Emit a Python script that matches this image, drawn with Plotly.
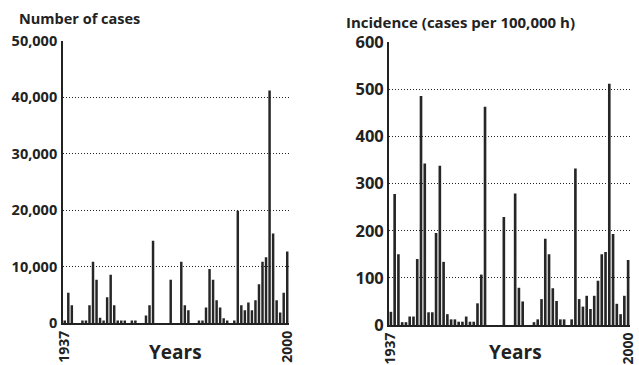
import plotly.graph_objects as go

years = list(range(1937, 2001))

cases = [500, 5400, 3200, 0, 0, 500, 500, 3200, 10900, 7700,
         1000, 500, 4600, 8600, 3200, 500, 500, 500, 0, 500,
         500, 0, 0, 1400, 3200, 14600, 0, 0, 0, 0,
         7700, 0, 0, 10900, 3200, 2300, 0, 0, 500, 500,
         2800, 9600, 7700, 4100, 2800, 900, 500, 0, 500, 19900,
         3200, 2300, 3700, 2300, 4100, 6900, 10900, 11700, 41200, 15900,
         4100, 1900, 5400, 12700]

incidence = [28, 278, 150, 6, 6, 18, 18, 140, 486, 343,
             27, 27, 195, 338, 134, 23, 12, 12, 7, 7,
             18, 7, 7, 46, 107, 463, 0, 0, 0, 0,
             229, 0, 0, 279, 79, 50, 0, 0, 6, 12,
             55, 183, 150, 78, 51, 12, 12, 0, 12, 332,
             55, 39, 62, 34, 62, 94, 150, 155, 512, 193,
             45, 23, 62, 138]

cases_ticks = [0, 10000, 20000, 30000, 40000, 50000]
cases_ticktext = ["0", "10,000", "20,000", "30,000", "40,000", "50,000"]
inc_ticks = [0, 100, 200, 300, 400, 500, 600]
year_ticks = [1937, 2000]

FONT = "Open Sans"
BAR = "#262626"
INK = "#222"

fig = go.Figure()
fig.add_trace(go.Bar(x=years, y=cases, marker_color=BAR, marker_line_width=0,
                     xaxis="x", yaxis="y", showlegend=False))
fig.add_trace(go.Bar(x=years, y=incidence, marker_color=BAR, marker_line_width=0,
                     xaxis="x2", yaxis="y2", showlegend=False))

W, H = 639, 365

def dom_x(a, b):
    return [a / W, b / W]

def dom_y(top, bottom):
    return [(H - bottom) / H, (H - top) / H]

def tf(size):
    return dict(family=FONT, size=size, color=INK, weight=700)

xcommon = dict(range=[1936.5, 2000.5], tickvals=year_ticks, tickangle=-90,
               showline=True, linecolor=INK, linewidth=1.8, showgrid=False,
               zeroline=False, ticks="", tickfont=tf(14), automargin=False)
ycommon = dict(showline=True, linecolor=INK, linewidth=1.8, showgrid=True,
               gridcolor=INK, griddash="1px,2px", gridwidth=1, zeroline=False,
               ticks="", automargin=False)

fig.update_layout(
    width=W, height=H,
    margin=dict(l=0, r=0, t=0, b=0),
    paper_bgcolor="white", plot_bgcolor="white",
    bargap=0.3,
    xaxis=dict(domain=dom_x(63, 289), anchor="y", **xcommon),
    yaxis=dict(domain=dom_y(40.7, 323.3), anchor="x", range=[0, 50000],
               tickvals=cases_ticks, ticktext=cases_ticktext, tickfont=tf(14.5),
               ticklabelstandoff=1, **ycommon),
    xaxis2=dict(domain=dom_x(389, 630), anchor="y2", **xcommon),
    yaxis2=dict(domain=dom_y(42.3, 325), anchor="x2", range=[0, 600],
                tickvals=inc_ticks, tickfont=tf(16.5), ticklabelstandoff=0, **ycommon),
    annotations=[
        dict(text="Number of cases", x=17 / W, y=(H - 18) / H, xref="paper", yref="paper",
             xanchor="left", yanchor="middle", showarrow=False,
             font=tf(14.5)),
        dict(text="Incidence (cases per 100,000 h)", x=344 / W, y=(H - 22) / H,
             xref="paper", yref="paper", xanchor="left", yanchor="middle", showarrow=False,
             font=tf(15)),
        dict(text="Years", x=175 / W, y=(H - 352) / H, xref="paper", yref="paper",
             xanchor="center", yanchor="middle", showarrow=False,
             font=tf(19)),
        dict(text="Years", x=515 / W, y=(H - 352) / H, xref="paper", yref="paper",
             xanchor="center", yanchor="middle", showarrow=False,
             font=tf(19)),
    ],
)

fig.write_html("out.html", config={"displayModeBar": False},
               post_script="document.body.style.margin='0';document.body.style.overflow='hidden';")
